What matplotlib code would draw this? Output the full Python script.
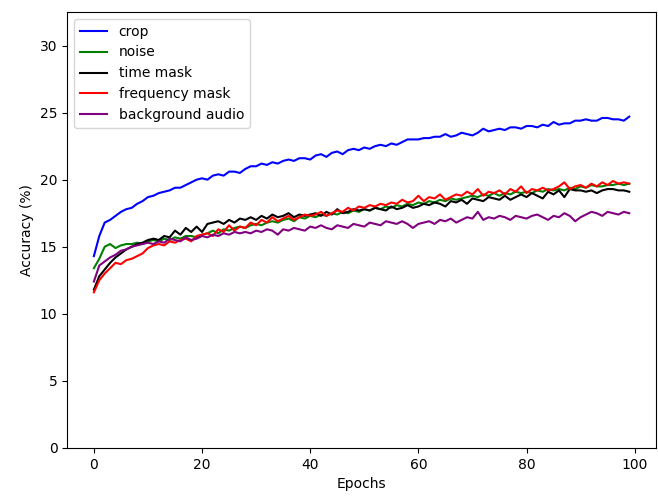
import matplotlib
matplotlib.use("Agg")
import matplotlib.pyplot as plt

epochs = list(range(100))

crop = [
    14.3, 15.8, 16.8, 17.0, 17.3, 17.6, 17.8, 17.9, 18.2, 18.4,
    18.7, 18.8, 19.0, 19.1, 19.2, 19.4, 19.4, 19.6, 19.8, 20.0,
    20.1, 20.0, 20.3, 20.4, 20.3, 20.6, 20.6, 20.5, 20.8, 21.0,
    21.0, 21.2, 21.1, 21.3, 21.2, 21.4, 21.5, 21.4, 21.6, 21.6,
    21.5, 21.8, 21.9, 21.7, 22.0, 22.1, 21.9, 22.2, 22.3, 22.2,
    22.4, 22.3, 22.5, 22.6, 22.5, 22.7, 22.6, 22.8, 23.0, 23.0,
    23.0, 23.1, 23.1, 23.2, 23.2, 23.4, 23.2, 23.3, 23.5, 23.4,
    23.3, 23.5, 23.8, 23.6, 23.7, 23.8, 23.7, 23.9, 23.9, 23.8,
    24.0, 24.0, 23.9, 24.1, 24.0, 24.3, 24.1, 24.2, 24.2, 24.4,
    24.4, 24.5, 24.4, 24.4, 24.6, 24.6, 24.5, 24.5, 24.4, 24.7,
]

noise = [
    13.4, 14.1, 15.0, 15.2, 14.9, 15.1, 15.2, 15.2, 15.3, 15.2,
    15.4, 15.5, 15.4, 15.6, 15.5, 15.7, 15.6, 15.8, 15.8, 15.7,
    15.9, 16.0, 16.2, 16.0, 16.3, 16.2, 16.4, 16.5, 16.4, 16.6,
    16.7, 16.6, 16.8, 16.9, 16.8, 17.0, 17.1, 16.9, 17.2, 17.1,
    17.3, 17.2, 17.4, 17.3, 17.5, 17.4, 17.6, 17.5, 17.7, 17.6,
    17.8, 17.7, 17.9, 17.8, 18.0, 17.9, 18.1, 18.0, 18.2, 18.1,
    18.3, 18.2, 18.4, 18.3, 18.5, 18.4, 18.6, 18.5, 18.6, 18.7,
    18.8, 18.7, 18.9, 18.8, 19.0, 18.8, 19.0, 18.9, 19.1, 19.0,
    19.1, 19.0, 19.2, 19.1, 19.3, 19.2, 19.3, 19.2, 19.4, 19.3,
    19.5, 19.4, 19.6, 19.5, 19.5, 19.6, 19.6, 19.7, 19.6, 19.7,
]

time_mask = [
    11.8, 12.8, 13.3, 13.8, 14.2, 14.5, 14.8, 15.0, 15.2, 15.3,
    15.5, 15.6, 15.5, 15.8, 15.7, 16.2, 15.9, 16.4, 16.1, 16.5,
    16.1, 16.7, 16.8, 16.9, 16.7, 17.0, 16.8, 17.1, 17.0, 17.2,
    17.0, 17.3, 17.1, 17.4, 17.2, 17.3, 17.5, 17.2, 17.4, 17.3,
    17.4, 17.5, 17.3, 17.6, 17.4, 17.8, 17.5, 17.6, 17.8, 17.7,
    17.8, 17.7, 17.9, 17.8, 17.7, 18.0, 17.8, 17.9, 18.1, 17.9,
    18.0, 18.2, 18.1, 18.3, 18.2, 18.0, 18.4, 18.3, 18.5, 18.2,
    18.6, 18.5, 18.4, 18.7, 18.6, 18.5, 18.8, 18.5, 18.7, 18.9,
    18.7, 19.0, 18.8, 18.6, 19.1, 18.9, 19.2, 18.7, 19.3, 19.2,
    19.2, 19.1, 19.2, 19.0, 19.2, 19.3, 19.3, 19.2, 19.2, 19.1,
]

frequency_mask = [
    11.6, 12.5, 13.0, 13.4, 13.8, 13.7, 14.0, 14.1, 14.3, 14.5,
    14.9, 15.1, 15.2, 15.1, 15.4, 15.3, 15.5, 15.6, 15.4, 15.8,
    15.9, 16.0, 15.8, 16.3, 16.1, 16.6, 16.2, 16.5, 16.4, 16.8,
    16.6, 17.0, 16.8, 17.2, 16.9, 17.1, 17.3, 17.0, 17.2, 17.4,
    17.3, 17.4, 17.6, 17.3, 17.5, 17.7, 17.6, 17.9, 17.7, 18.0,
    17.9, 18.1, 18.0, 18.2, 18.1, 18.3, 18.2, 18.5, 18.3, 18.4,
    18.8, 18.4, 18.7, 18.6, 18.9, 18.5, 18.7, 18.9, 18.8, 19.1,
    18.9, 19.3, 18.8, 19.1, 19.0, 19.2, 18.9, 19.3, 19.1, 19.5,
    19.0, 19.3, 19.2, 19.4, 19.2, 19.3, 19.5, 19.8, 19.3, 19.5,
    19.6, 19.4, 19.7, 19.5, 19.8, 19.6, 19.9, 19.7, 19.8, 19.7,
]

background_audio = [
    12.4, 13.6, 13.9, 14.2, 14.4, 14.7, 14.8, 15.0, 15.1, 15.2,
    15.3, 15.2, 15.4, 15.3, 15.6, 15.5, 15.4, 15.7, 15.5, 15.6,
    15.8, 15.7, 15.9, 15.8, 16.0, 15.9, 16.1, 16.0, 16.1, 16.0,
    16.2, 16.1, 16.3, 16.2, 15.9, 16.3, 16.2, 16.4, 16.3, 16.2,
    16.5, 16.4, 16.6, 16.4, 16.3, 16.6, 16.5, 16.4, 16.7, 16.6,
    16.5, 16.8, 16.7, 16.6, 16.9, 16.8, 16.7, 16.9, 16.7, 16.4,
    16.7, 16.8, 16.9, 16.7, 17.0, 16.9, 17.1, 16.8, 17.0, 17.2,
    17.1, 17.6, 17.0, 17.2, 17.1, 17.3, 17.2, 17.0, 17.3, 17.2,
    17.1, 17.3, 17.4, 17.2, 17.0, 17.3, 17.2, 17.5, 17.3, 16.9,
    17.2, 17.4, 17.6, 17.5, 17.3, 17.6, 17.5, 17.4, 17.6, 17.5,
]

series = [
    ("crop", crop, "blue"),
    ("noise", noise, "green"),
    ("time mask", time_mask, "black"),
    ("frequency mask", frequency_mask, "red"),
    ("background audio", background_audio, "purple"),
]

fig = plt.figure(figsize=(6.58, 5.01), dpi=100)
ax = fig.add_axes([0.102, 0.106, 0.895, 0.87])

for label, values, color in series:
    ax.plot(epochs, values, color=color, label=label)

ax.set_ylim(0, 32.5)
ax.set_xlabel("Epochs")
ax.set_ylabel("Accuracy (%)")
ax.legend(loc="upper left")

fig.savefig("out.png", dpi=100)
